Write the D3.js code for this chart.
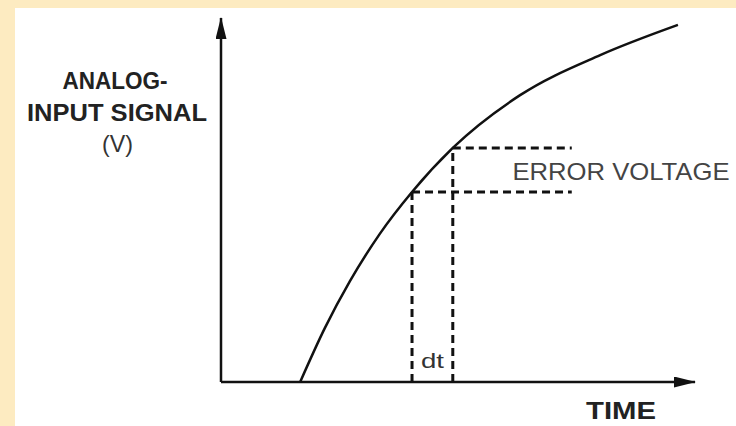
<!DOCTYPE html>
<html>
<head>
<meta charset="utf-8">
<script src="https://cdn.jsdelivr.net/npm/d3@7"></script>
<style>
  body { margin: 0; background: #fff; }
  svg { display: block; font-family: "Liberation Sans", Arial, sans-serif; }
</style>
</head>
<body>
<div id="chart"></div>
<script>
// curve samples (time, volts) in arbitrary 0..10 units
const signalTime = [1.67, 2.19, 2.72, 3.35, 4.03, 4.89, 6.31, 8.0, 9.64];
const signalVolts = [0, 1.48, 2.77, 4.07, 5.22, 6.43, 7.88, 8.98, 9.81];

// the two sample instants and the error-voltage levels
const sampleTimes = [4.03, 4.89];
const sampleVolts = [5.22, 6.43];
const errorLineEnd = 7.4;

const width = 736;
const height = 426;

const svg = d3.select("#chart")
  .append("svg")
  .attr("width", width)
  .attr("height", height);

// beige frame strips
svg.append("rect").attr("x", 0).attr("y", 0).attr("width", width).attr("height", 8).attr("fill", "#fdebc1");
svg.append("rect").attr("x", 0).attr("y", 0).attr("width", 15).attr("height", height).attr("fill", "#fdebc1");

const x = d3.scaleLinear().domain([0, 10]).range([221, 695]);
const y = d3.scaleLinear().domain([0, 10]).range([382, 18]);

const defs = svg.append("defs");
defs.append("marker")
  .attr("id", "arrow")
  .attr("markerUnits", "userSpaceOnUse")
  .attr("viewBox", "0 0 22 11")
  .attr("markerWidth", 22)
  .attr("markerHeight", 11)
  .attr("refX", 21)
  .attr("refY", 5.5)
  .attr("orient", "auto")
  .append("path")
  .attr("d", "M0,0 L22,5.5 L0,11 Z")
  .attr("fill", "#111");

// axes
svg.append("path")
  .attr("d", d3.line()([[x(0), y(0)], [x(0), y(10)]]))
  .attr("stroke", "#111")
  .attr("stroke-width", 2.5)
  .attr("fill", "none")
  .attr("marker-end", "url(#arrow)");

svg.append("path")
  .attr("d", d3.line()([[x(0), y(0)], [x(10), y(0)]]))
  .attr("stroke", "#111")
  .attr("stroke-width", 2.5)
  .attr("fill", "none")
  .attr("marker-end", "url(#arrow)");

// dashed guides
const dashed = svg.append("g")
  .attr("stroke", "#111")
  .attr("stroke-width", 3)
  .attr("stroke-dasharray", "8,5")
  .attr("fill", "none");

sampleTimes.forEach((t, i) => {
  dashed.append("line")
    .attr("x1", x(t)).attr("y1", y(0))
    .attr("x2", x(t)).attr("y2", y(sampleVolts[i]));
  dashed.append("line")
    .attr("x1", x(t)).attr("y1", y(sampleVolts[i]))
    .attr("x2", x(errorLineEnd)).attr("y2", y(sampleVolts[i]));
});

// signal curve
const points = signalTime.map((t, i) => [x(t), y(signalVolts[i])]);
svg.append("path")
  .attr("d", d3.line().curve(d3.curveMonotoneX)(points))
  .attr("stroke", "#111")
  .attr("stroke-width", 2.5)
  .attr("fill", "none");

// labels
function label(txt, cx, by, size, weight, len, fill) {
  svg.append("text")
    .attr("x", cx)
    .attr("y", by)
    .attr("text-anchor", "middle")
    .attr("font-size", size + "px")
    .attr("font-weight", weight)
    .attr("fill", fill)
    .attr("textLength", len)
    .attr("lengthAdjust", "spacingAndGlyphs")
    .text(txt);
}

label("ANALOG-", 115, 89, 24, "bold", 105, "#222");
label("INPUT SIGNAL", 117, 121, 24, "bold", 180, "#222");
label("(V)", 117.5, 152, 24, "normal", 31, "#333");
label("ERROR VOLTAGE", 621, 180, 24, "normal", 217, "#444");
label("dt", 432.5, 368, 21, "normal", 23, "#333");
label("TIME", 621, 419, 23, "bold", 70, "#222");
</script>
</body>
</html>
